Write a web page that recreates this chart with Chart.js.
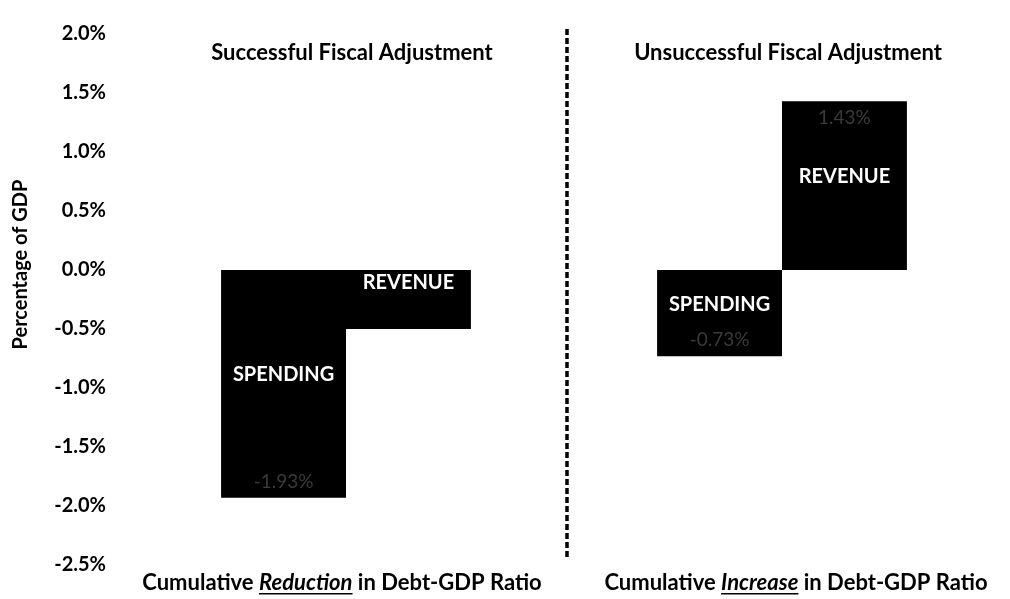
<!DOCTYPE html>
<html>
<head>
<meta charset="utf-8">
<script src="https://cdn.jsdelivr.net/npm/chart.js@4"></script>
<style>
  html, body { margin: 0; padding: 0; background: #fff; }
  #chart { display: block; }
</style>
</head>
<body>
<canvas id="chart" width="1010" height="599"></canvas>
<script>
// panels (categories) and the two bar series, % of GDP
var categories = ['Successful Fiscal Adjustment', 'Unsuccessful Fiscal Adjustment'];
var axisLabels = [
    ['Cumulative ', 'Reduction', ' in Debt-GDP Ratio'],
    ['Cumulative ', 'Increase', ' in Debt-GDP Ratio']
];
var seriesNames = ['SPENDING', 'REVENUE'];
var spending = [-1.93, -0.73];
var revenue = [-0.50, 1.43];
var yMin = -2.5, yMax = 2.0, yStep = 0.5;
var yTitle = 'Percentage of GDP';

var FONT = 'Lato, "Open Sans", sans-serif';

// textos dentro de las barras, titulos de panel, linea divisoria y etiquetas de abajo
var panelText = {
    id: 'panelText',
    afterDatasetsDraw: function (chart) {
        var c = chart.ctx;
        var area = chart.chartArea;
        var xs = chart.scales.x;
        c.save();

        // nombres y valores dentro de las barras
        chart.data.datasets.forEach(function (ds, di) {
            var meta = chart.getDatasetMeta(di);
            meta.data.forEach(function (bar, i) {
                var v = ds.data[i];
                var top = Math.min(bar.y, bar.base);
                var bottom = Math.max(bar.y, bar.base);
                var mid = (top + bottom) / 2 - 9;
                if (bottom - top < 80) mid = top + 13;
                c.textAlign = 'center';
                c.textBaseline = 'middle';
                c.fillStyle = '#ffffff';
                c.font = 'bold 20px ' + FONT;
                c.fillText(ds.label, bar.x, mid);
                if (bottom - top > 80) {
                    c.fillStyle = '#3a3a3a';
                    c.font = '19px ' + FONT;
                    var vy = v < 0 ? bottom - 16 : top + 17;
                    c.fillText(v.toFixed(2) + '%', bar.x, vy);
                }
            });
        });

        c.fillStyle = '#000';
        c.textAlign = 'center';
        c.textBaseline = 'middle';

        // titulo del eje y
        c.save();
        c.font = 'bold 20px ' + FONT;
        c.translate(21, (area.top + area.bottom) / 2 - 35);
        c.rotate(-Math.PI / 2);
        c.fillText(yTitle, 0, 0);
        c.restore();

        // titulos de cada panel
        c.font = 'bold 22px ' + FONT;
        categories.forEach(function (t, i) {
            c.fillText(t, xs.getPixelForValue(i) + 6, area.top + 19);
        });

        // linea punteada entre paneles
        var xm = (xs.getPixelForValue(0) + xs.getPixelForValue(1)) / 2 + 3;
        c.strokeStyle = '#000';
        c.lineWidth = 3.5;
        c.setLineDash([6, 3]);
        c.beginPath();
        c.moveTo(xm, area.top - 5);
        c.lineTo(xm, area.bottom - 6);
        c.stroke();
        c.setLineDash([]);

        // etiquetas del eje x con la palabra central en cursiva subrayada
        var y = area.bottom + 18;
        c.textAlign = 'left';
        axisLabels.forEach(function (parts, i) {
            var fonts = ['bold 22px ' + FONT, 'italic bold 22px ' + FONT, 'bold 22px ' + FONT];
            var widths = parts.map(function (p, k) { c.font = fonts[k]; return c.measureText(p).width; });
            var total = widths.reduce(function (a, b) { return a + b; }, 0);
            var x = xs.getPixelForValue(i) + (i === 0 ? -4 : 14) - total / 2;
            parts.forEach(function (p, k) {
                c.font = fonts[k];
                c.fillText(p, x, y);
                if (k === 1) {
                    c.fillRect(x, y + 10, widths[k], 1.5);
                }
                x += widths[k];
            });
        });
        c.restore();
    }
};

new Chart(document.getElementById('chart'), {
    type: 'bar',
    data: {
        labels: categories,
        datasets: [
            { label: seriesNames[0], data: spending, backgroundColor: '#000', borderWidth: 0 },
            { label: seriesNames[1], data: revenue, backgroundColor: '#000', borderWidth: 0 }
        ]
    },
    options: {
        responsive: false,
        animation: false,
        devicePixelRatio: 1,
        layout: { padding: { top: 14, right: 10, bottom: 19, left: 0 } },
        datasets: { bar: { categoryPercentage: 0.573, barPercentage: 1 } },
        plugins: { legend: { display: false }, tooltip: { enabled: false } },
        scales: {
            x: {
                grid: { display: false },
                border: { display: false },
                ticks: { display: false }
            },
            y: {
                min: yMin,
                max: yMax,
                grid: { display: false, drawTicks: false },
                border: { display: false },
                ticks: {
                    stepSize: yStep,
                    padding: 22,
                    color: '#000',
                    font: { family: FONT, weight: 'bold', size: 20 },
                    callback: function (v) { return v.toFixed(1) + '%'; }
                },
                afterFit: function (s) { s.width = 128; }
            }
        }
    },
    plugins: [panelText]
});
</script>
</body>
</html>
